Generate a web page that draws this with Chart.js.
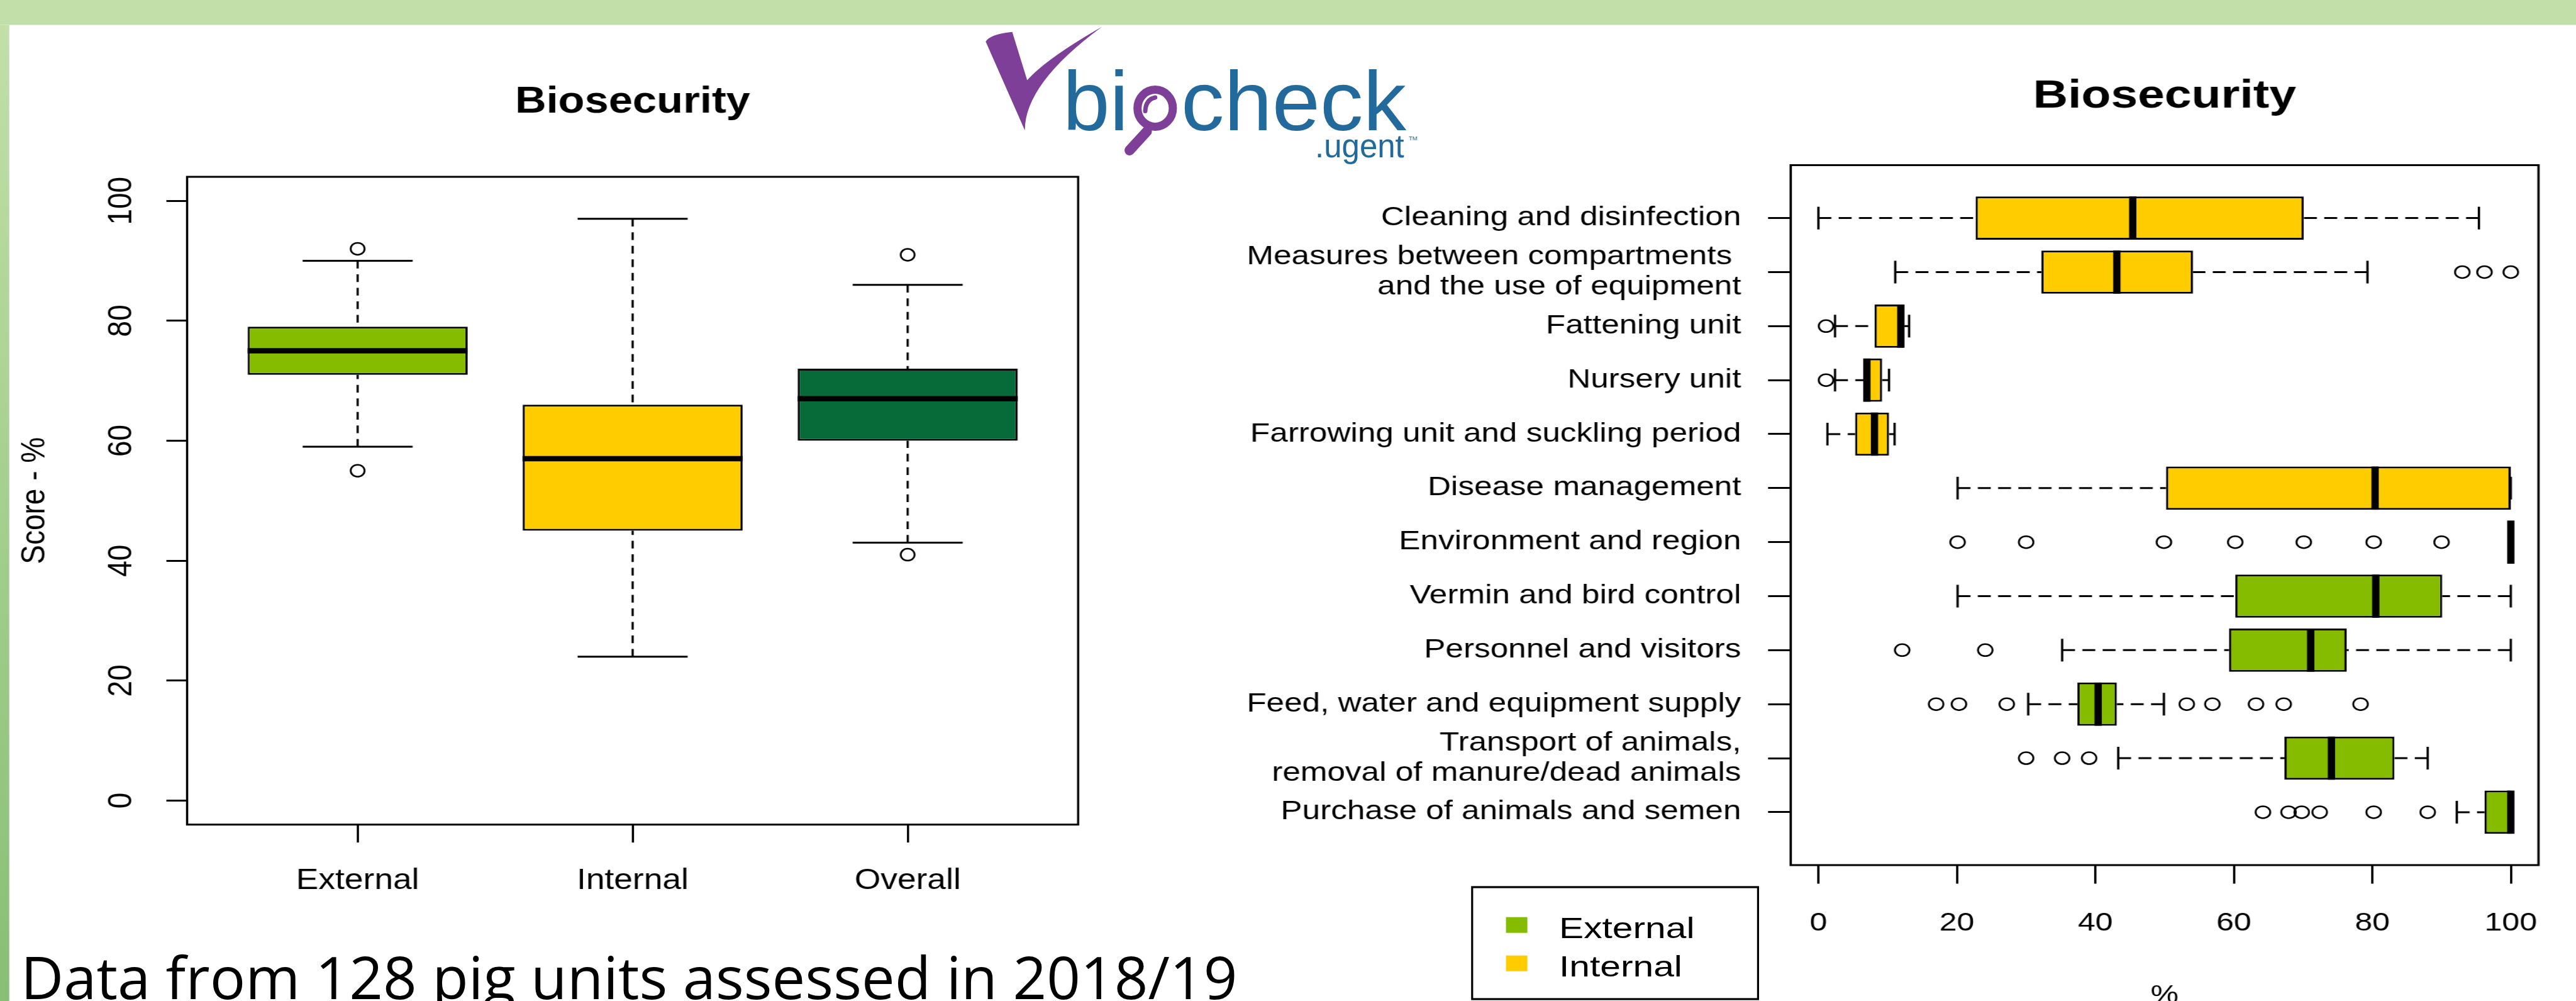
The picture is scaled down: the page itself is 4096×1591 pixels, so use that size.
<!DOCTYPE html>
<html>
<head>
<meta charset="utf-8">
<script src="https://cdn.jsdelivr.net/npm/chart.js@4.4.1/dist/chart.umd.min.js"></script>
<style>
  html, body { margin: 0; padding: 0; background: #fff; width: 4096px; height: 1591px; overflow: hidden; }
  canvas { position: absolute; }
  #deco { position: absolute; left: 0; top: 0; }
</style>
</head>
<body>
<svg id="deco" width="4096" height="1591" xmlns="http://www.w3.org/2000/svg">
  <defs>
    <linearGradient id="strip" x1="0" y1="0" x2="0" y2="1">
      <stop offset="0" stop-color="#c2dfa8"/>
      <stop offset="1" stop-color="#87bf74"/>
    </linearGradient>
  </defs>
  <rect x="0" y="0" width="4096" height="39.6" fill="#c3dfa9"/>
  <rect x="0" y="39.6" width="14.7" height="1552" fill="url(#strip)"/>
  <!-- biocheck logo -->
  <path d="M1567.3,66 Q1575,54 1609.5,50.7 L1633.3,127.4 Q1663.8,93.1 1752.3,42.4 Q1629,133 1629.6,207.2 Z" fill="#7e3f98"/>
  <text x="1690" y="206.6" font-family="Liberation Sans" font-size="134" fill="#22699c">bi</text>
  <ellipse cx="1836.8" cy="172" rx="28.1" ry="29.4" fill="none" stroke="#7e3f98" stroke-width="13"/>
  <line x1="1823.6" y1="208.8" x2="1796" y2="239" stroke="#7e3f98" stroke-width="16" stroke-linecap="round"/>
  <path d="M1836.8,155 Q1822,158 1821,176.5" fill="none" stroke="#7e3f98" stroke-width="7" stroke-linecap="round"/>
  <text x="1878" y="206.6" font-family="Liberation Sans" font-size="134" fill="#22699c" textLength="358" lengthAdjust="spacingAndGlyphs">check</text>
  <text x="2091" y="250.2" font-family="Liberation Sans" font-size="51" fill="#22699c">.ugent</text>
  <text x="2240" y="223" font-family="Liberation Sans" font-size="9.5" fill="#22699c">TM</text>
  <text x="33" y="1587.5" font-family="Open Sans" font-size="94" fill="#000">Data from 128 pig units assessed in 2018/19</text>
  <g id="legend"></g>
</svg>
<canvas id="overview" width="1517" height="1410" style="left:15px;top:40px;width:1759.72px;height:1410px"></canvas>
<canvas id="detail" width="1800" height="1600" style="left:1900px;top:40px;width:2196px;height:1600px"></canvas>
<script>
// Left plot: external / internal / overall biosecurity score (%)
const scoreCats = ['External', 'Internal', 'Overall'];
const scoreLow = [59, 24, 43];
const scoreQ1 = [71, 45, 60];
const scoreMed = [75, 57, 67];
const scoreQ3 = [79, 66, 72];
const scoreHigh = [90, 97, 86];
const scoreOut = [[92, 55], [], [91, 41]];
const scoreTicks = [0, 20, 40, 60, 80, 100];

// Right plot: subcategories, top to bottom
const subCats = [
  'Cleaning and disinfection',
  ['Measures between compartments ', 'and the use of equipment'],
  'Fattening unit',
  'Nursery unit',
  'Farrowing unit and suckling period',
  'Disease management',
  'Environment and region',
  'Vermin and bird control',
  'Personnel and visitors',
  'Feed, water and equipment supply',
  ['Transport of animals,', 'removal of manure/dead animals'],
  'Purchase of animals and semen'
];
const subGroup = ['Internal', 'Internal', 'Internal', 'Internal', 'Internal', 'Internal',
  'External', 'External', 'External', 'External', 'External', 'External'];
const subLow = [0, 11.1, 2.4, 2.4, 1.3, 20.1, 100, 20.1, 35.2, 30.3, 43.3, 92.2];
const subQ1 = [22.7, 32.2, 8.1, 6.5, 5.3, 50.2, 100, 60.2, 59.3, 37.4, 67.3, 96.2];
const subMed = [45.4, 43.1, 11.9, 7.0, 8.1, 80.4, 100, 80.5, 71.1, 40.4, 74.1, 100];
const subQ3 = [70.1, 54.1, 12.4, 9.2, 10.2, 100, 100, 90.1, 76.3, 43.1, 83.2, 100];
const subHigh = [95.4, 79.3, 13.1, 10.2, 11.0, 100, 100, 100, 100, 49.9, 88.0, 100];
const subOut = [
  [], [93.0, 96.2, 100], [1.1], [1.1], [], [],
  [20.1, 30.0, 49.9, 60.2, 70.1, 80.2, 90.0], [], [12.1, 24.1],
  [17.0, 20.3, 27.2, 53.2, 56.9, 63.2, 67.2, 78.3], [30.0, 35.2, 39.1],
  [64.2, 67.9, 69.8, 72.4, 80.2, 88.0]
];
const pctTicks = [0, 20, 40, 60, 80, 100];
const groups = ['External', 'Internal'];

const groupColor = { External: '#86bc00', Internal: '#ffcc00', Overall: '#066b38' };

Chart.defaults.font.family = "'Liberation Sans', Arial, sans-serif";
Chart.defaults.color = '#000';

const scorePos = scoreCats.map((c, i) => i + 1);
const subPos = subCats.map((c, i) => subCats.length - i);

// whiskers, staples, medians and the frame, R boxplot style
function boxPlugin(cfg) {
  return {
    id: 'rbox',
    afterDatasetsDraw(chart) {
      const ctx = chart.ctx;
      const vs = cfg.horizontal ? chart.scales.x : chart.scales.y;
      const ps = cfg.horizontal ? chart.scales.y : chart.scales.x;
      const at = (p, v) => cfg.horizontal
        ? [vs.getPixelForValue(v), ps.getPixelForValue(p)]
        : [ps.getPixelForValue(p), vs.getPixelForValue(v)];
      const seg = (a, b) => { ctx.beginPath(); ctx.moveTo(a[0], a[1]); ctx.lineTo(b[0], b[1]); ctx.stroke(); };
      ctx.save();
      ctx.strokeStyle = '#000';
      ctx.lineCap = 'butt';
      cfg.pos.forEach((p, i) => {
        ctx.lineWidth = cfg.lw;
        ctx.setLineDash(cfg.dash);
        // R draws whiskers from the end towards the box
        seg(at(p, cfg.low[i]), at(p, cfg.q1[i]));
        seg(at(p, cfg.high[i]), at(p, cfg.q3[i]));
        ctx.setLineDash([]);
        seg(at(p - cfg.cap, cfg.low[i]), at(p + cfg.cap, cfg.low[i]));
        seg(at(p - cfg.cap, cfg.high[i]), at(p + cfg.cap, cfg.high[i]));
        ctx.lineWidth = cfg.medLw;
        seg(at(p - cfg.half, cfg.med[i]), at(p + cfg.half, cfg.med[i]));
      });
      const a = chart.chartArea;
      ctx.lineWidth = cfg.lw;
      ctx.strokeRect(a.left, a.top, a.right - a.left, a.bottom - a.top);
      ctx.restore();
    }
  };
}

const tickGrid = (len) => ({
  drawOnChartArea: false, drawTicks: true, tickLength: len, tickWidth: 3, tickColor: '#000', offset: false
});

new Chart(document.getElementById('overview'), {
  type: 'bar',
  data: {
    datasets: [{
      type: 'bar',
      data: scorePos.map((p, i) => ({ x: p, y: [scoreQ1[i], scoreQ3[i]] })),
      backgroundColor: scoreCats.map(c => groupColor[c]),
      borderColor: '#000',
      borderWidth: 3,
      borderSkipped: false,
      categoryPercentage: 1,
      barPercentage: 0.8
    }, {
      type: 'scatter',
      data: scoreOut.flatMap((vals, i) => vals.map(v => ({ x: scorePos[i], y: v }))),
      pointRadius: 9.5,
      pointBorderWidth: 2.5,
      pointBorderColor: '#000',
      pointBackgroundColor: 'rgba(0,0,0,0)'
    }]
  },
  options: {
    responsive: false,
    animation: false,
    devicePixelRatio: 1,
    layout: { padding: { left: 0, right: 52.3, top: 0, bottom: 0 } },
    plugins: {
      legend: { display: false },
      tooltip: { enabled: false },
      title: {
        display: true, text: 'Biosecurity', fullSize: false, color: '#000',
        font: { size: 59.2, weight: 'bold', lineHeight: 1.2 },
        padding: { top: 87.5, bottom: 82.5 }
      }
    },
    scales: {
      x: {
        type: 'linear', min: 0.38, max: 3.62, offset: false,
        afterFit: s => { s.height = 139.4; },
        afterBuildTicks: s => { s.ticks = scorePos.map(v => ({ value: v })); },
        ticks: { autoSkip: false, maxRotation: 0, padding: 33.3, font: { size: 46 },
          callback: v => scoreCats[v - 1] },
        grid: tickGrid(28.5),
        border: { display: false }
      },
      y: {
        type: 'linear', min: -4, max: 104, offset: false,
        afterFit: s => { s.width = 243.5; },
        afterBuildTicks: s => { s.ticks = scoreTicks.map(v => ({ value: v })); },
        ticks: { autoSkip: false, minRotation: 90, maxRotation: 90, crossAlign: 'center',
          padding: 22.9, font: { size: 46 } },
        title: { display: true, text: 'Score - %', color: '#000', font: { size: 46, lineHeight: 1.2 },
          padding: { top: 7.7, bottom: 0 } },
        grid: tickGrid(28.4),
        border: { display: false }
      }
    }
  },
  plugins: [boxPlugin({
    horizontal: false, pos: scorePos, low: scoreLow, q1: scoreQ1, med: scoreMed, q3: scoreQ3, high: scoreHigh,
    half: 0.4, cap: 0.2, lw: 3, medLw: 8.5, dash: [12.3, 9.2]
  })]
});

new Chart(document.getElementById('detail'), {
  type: 'bar',
  data: {
    datasets: [{
      type: 'bar',
      indexAxis: 'y',
      data: subPos.map((p, i) => ({ y: p, x: [subQ1[i], subQ3[i]] })),
      backgroundColor: subGroup.map(g => groupColor[g]),
      borderColor: '#000',
      borderWidth: 3,
      borderSkipped: false,
      categoryPercentage: 1,
      barPercentage: 0.8
    }, {
      type: 'scatter',
      data: subOut.flatMap((vals, i) => vals.map(v => ({ x: v, y: subPos[i] }))),
      pointRadius: 9.5,
      pointBorderWidth: 2.5,
      pointBorderColor: '#000',
      pointBackgroundColor: 'rgba(0,0,0,0)'
    }]
  },
  options: {
    responsive: false,
    animation: false,
    devicePixelRatio: 1,
    layout: { padding: { left: 0, right: 48.9, top: 0, bottom: 0 } },
    plugins: {
      legend: { display: false },
      tooltip: { enabled: false },
      title: {
        display: true, text: 'Biosecurity', fullSize: false, color: '#000',
        font: { size: 63, weight: 'bold', lineHeight: 1.2 },
        padding: { top: 75.4, bottom: 71.5 }
      }
    },
    scales: {
      x: {
        type: 'linear', min: -4, max: 104, offset: false,
        afterFit: s => { s.height = 265; },
        afterBuildTicks: s => { s.ticks = pctTicks.map(v => ({ value: v })); },
        ticks: { autoSkip: false, maxRotation: 0, padding: 38.5, font: { size: 41 } },
        title: { display: true, text: '%', color: '#000', font: { size: 41, lineHeight: 1.2 },
          padding: { top: 0, bottom: 32.4 } },
        grid: tickGrid(29.5),
        border: { display: false }
      },
      y: {
        type: 'linear', min: 0.02, max: 12.98, offset: false,
        afterFit: s => { s.width = 776.5; },
        afterBuildTicks: s => { s.ticks = subPos.map(v => ({ value: v })); },
        ticks: { autoSkip: false, padding: 35.2, font: { size: 42, lineHeight: 1.14 },
          callback: v => subCats[subCats.length - v] },
        grid: tickGrid(29.5),
        border: { display: false }
      }
    }
  },
  plugins: [boxPlugin({
    horizontal: true, pos: subPos, low: subLow, q1: subQ1, med: subMed, q3: subQ3, high: subHigh,
    half: 0.4, cap: 0.21, lw: 3, medLw: 9.5, dash: [16.8, 9.6]
  })]
});

// legend box for the two groups
const ns = 'http://www.w3.org/2000/svg';
const leg = document.getElementById('legend');
const mk = (tag, attrs) => {
  const el = document.createElementNS(ns, tag);
  Object.entries(attrs).forEach(([k, v]) => el.setAttribute(k, v));
  leg.appendChild(el);
  return el;
};
mk('rect', { x: 2340.8, y: 1410, width: 454.6, height: 178, fill: '#fff', stroke: '#000', 'stroke-width': 3.2 });
groups.forEach((g, i) => {
  const y0 = 1457.7 + i * 61;
  mk('rect', { x: 2394.6, y: y0, width: 34, height: 25, fill: groupColor[g] });
  const t = mk('text', { transform: `translate(2479,${y0 + 32.8}) scale(1.25,1)`, 'font-family': 'Liberation Sans',
    'font-size': 47, fill: '#000' });
  t.textContent = g;
});
</script>
</body>
</html>
